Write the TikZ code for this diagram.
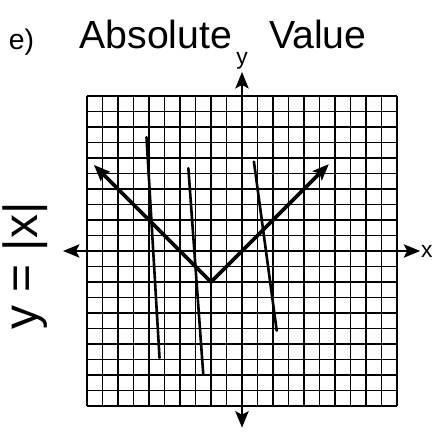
\documentclass[tikz,border=0pt]{standalone}
\usepackage{fontspec}
\setmainfont{Liberation Sans}
\usetikzlibrary{arrows.meta}

\begin{document}
\begin{tikzpicture}[x=0.5cm, y=0.5cm,
  >={Stealth[length=15pt, width=12pt, inset=3pt]},
  gridline/.style={line width=1.6pt},
  axis/.style={line width=2.6pt, <->},
  graph/.style={line width=3.4pt, <->},
  testline/.style={line width=2.4pt, line cap=round},
  axislabel/.style={font=\fontsize{21}{24}\selectfont, inner sep=0.5pt},
  hand/.style={font=\fontsize{36}{44}\selectfont, inner sep=0pt}]

\useasboundingbox (-15.61,-11.74) rectangle (12.45,16.19);

% Title and part label
\node[hand, anchor=base west] (title) at (-10.5,13.03) {Absolute\hspace{34pt}Value};
\node[anchor=base, inner sep=0pt, font=\fontsize{26}{30}\selectfont] (part) at (-14.23,12.97) {e)};

% Equation on the left
\node[rotate=90, inner sep=0pt, font=\fontsize{44}{50}\selectfont] (eqn) at (-14.0,-0.97) {y = |x|};

% Grid
\draw[gridline, step=0.5cm] (-10,-10) grid (10,10);

% Axes
\coordinate (xl) at (-11.55,0);
\coordinate (xr) at (11.5,0);
\coordinate (yb) at (0,-11.4);
\coordinate (yt) at (0,11.55);
\draw[axis] (xl) -- (xr);
\draw[axis] (yb) -- (yt);
\node[axislabel, right] (xlab) at (xr) {x};
\node[axislabel] (ylab) at (0,12.25) {y};

% Graph of the function
\coordinate (gl) at (-9.55,5.55);
\coordinate (gv) at (-2,-2);
\coordinate (gr) at (5.6,5.6);
\draw[graph] (gl) -- (gv) -- (gr);

% Vertical line test
\coordinate (t1a) at (-6.16,7.34);
\coordinate (t1b) at (-5.32,-6.9);
\coordinate (t2a) at (-3.46,5.34);
\coordinate (t2b) at (-2.5,-7.94);
\coordinate (t3a) at (0.77,5.76);
\coordinate (t3b) at (2.24,-5.14);
\draw[testline] (t1a) -- (t1b);
\draw[testline] (t2a) -- (t2b);
\draw[testline] (t3a) -- (t3b);

\end{tikzpicture}
\end{document}
